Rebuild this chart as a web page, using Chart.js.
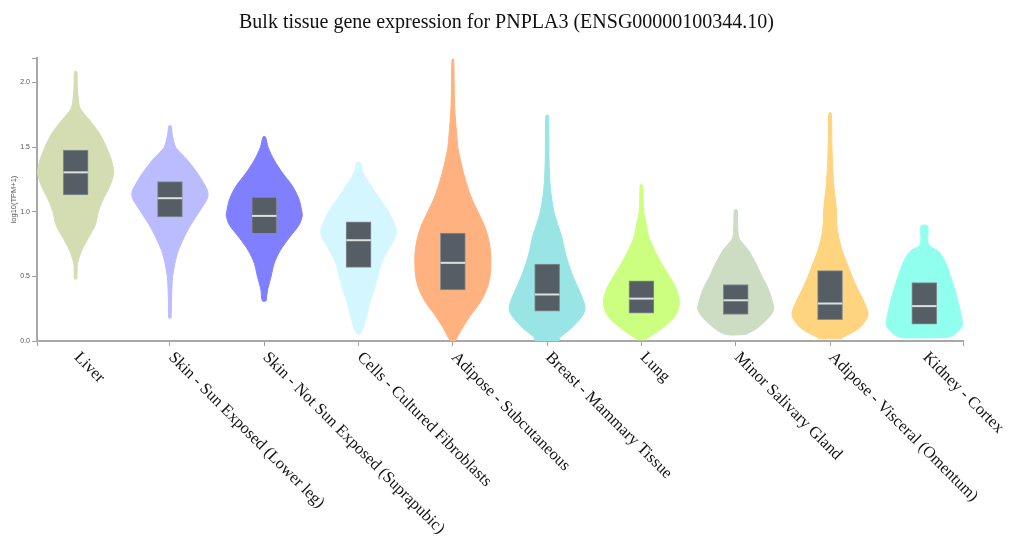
<!DOCTYPE html>
<html lang="en">

<head>
    <meta charset="UTF-8">
    <title>Bulk tissue gene expression for PNPLA3</title>
    <script src="https://cdn.jsdelivr.net/npm/chart.js"></script>
    <style>
        body {
            margin: 0;
            background: #fff;
        }

        #wrap {
            width: 1013px;
            height: 539px;
        }
    </style>
</head>

<body>
    <div id="wrap"><canvas id="violinChart"></canvas></div>
    <script>
        // tissues (x axis)
        const tissues = [
            'Liver',
            'Skin - Sun Exposed (Lower leg)',
            'Skin - Not Sun Exposed (Suprapubic)',
            'Cells - Cultured Fibroblasts',
            'Adipose - Subcutaneous',
            'Breast - Mammary Tissue',
            'Lung',
            'Minor Salivary Gland',
            'Adipose - Visceral (Omentum)',
            'Kidney - Cortex'
        ];
        const tissueColors = [
            'rgb(212,221,178)', 'rgb(187,187,255)', 'rgb(127,127,255)', 'rgb(212,246,255)', 'rgb(255,178,127)',
            'rgb(153,229,229)', 'rgb(204,255,127)', 'rgb(204,221,195)', 'rgb(255,212,127)', 'rgb(144,255,238)'
        ];

        // box: first quartile, median, third quartile  (log10(TPM+1))
        const q1 = [1.13, 0.96, 0.83, 0.57, 0.395, 0.23, 0.215, 0.205, 0.165, 0.13];
        const median = [1.305, 1.105, 0.968, 0.78, 0.605, 0.36, 0.328, 0.315, 0.29, 0.27];
        const q3 = [1.477, 1.233, 1.114, 0.922, 0.835, 0.595, 0.465, 0.437, 0.545, 0.452];

        // violin outline: expression levels and relative density (1 = widest point)
        const violinY = [
            [0.48, 0.55, 0.6, 0.7, 0.8, 0.9, 1.0, 1.08, 1.2, 1.3, 1.4, 1.5, 1.6, 1.7, 1.8, 1.9, 2.0, 2.085],
            [0.178, 0.3, 0.4, 0.5, 0.6, 0.7, 0.8, 0.9, 1.0, 1.1, 1.15, 1.2, 1.3, 1.4, 1.45, 1.5, 1.6, 1.664],
            [0.31, 0.4, 0.5, 0.6, 0.7, 0.8, 0.9, 0.97, 1.0, 1.1, 1.2, 1.3, 1.4, 1.5, 1.58],
            [0.057, 0.1, 0.2, 0.3, 0.4, 0.5, 0.6, 0.7, 0.8, 0.85, 0.9, 1.0, 1.1, 1.2, 1.3, 1.38],
            [0.0, 0.1, 0.2, 0.3, 0.4, 0.5, 0.6, 0.7, 0.8, 0.9, 1.0, 1.1, 1.2, 1.3, 1.4, 1.5, 1.6, 1.8, 2.0, 2.18],
            [0.0, 0.03, 0.1, 0.2, 0.25, 0.3, 0.4, 0.5, 0.6, 0.7, 0.8, 0.9, 1.0, 1.1, 1.2, 1.4, 1.6, 1.745],
            [0.01, 0.03, 0.1, 0.2, 0.3, 0.4, 0.5, 0.6, 0.7, 0.8, 0.9, 1.0, 1.1, 1.207],
            [0.05, 0.1, 0.2, 0.25, 0.3, 0.4, 0.5, 0.6, 0.7, 0.75, 0.8, 0.9, 1.013],
            [0.018, 0.03, 0.1, 0.2, 0.3, 0.4, 0.5, 0.6, 0.7, 0.8, 0.9, 1.0, 1.1, 1.2, 1.4, 1.6, 1.763],
            [0.026, 0.05, 0.12, 0.2, 0.3, 0.4, 0.5, 0.6, 0.66, 0.7, 0.74, 0.8, 0.89]
        ];
        const violinDensity = [
            [0.03, 0.04, 0.05, 0.16, 0.34, 0.52, 0.6, 0.7, 0.9, 1.0, 0.94, 0.81, 0.64, 0.39, 0.12, 0.06, 0.04, 0.03],
            [0.03, 0.04, 0.05, 0.07, 0.13, 0.22, 0.37, 0.55, 0.77, 0.98, 1.0, 0.93, 0.72, 0.46, 0.3, 0.15, 0.06, 0.03],
            [0.05, 0.09, 0.18, 0.26, 0.42, 0.66, 0.92, 1.0, 0.99, 0.91, 0.74, 0.48, 0.26, 0.1, 0.03],
            [0.05, 0.12, 0.22, 0.3, 0.42, 0.51, 0.6, 0.77, 0.96, 1.0, 0.95, 0.79, 0.56, 0.33, 0.12, 0.05],
            [0.06, 0.25, 0.47, 0.72, 0.89, 0.98, 1.0, 0.99, 0.93, 0.82, 0.66, 0.5, 0.38, 0.28, 0.2, 0.13, 0.1, 0.05, 0.035, 0.02],
            [0.3, 0.35, 0.64, 0.94, 1.0, 0.97, 0.83, 0.68, 0.56, 0.46, 0.39, 0.28, 0.18, 0.12, 0.08, 0.05, 0.045, 0.03],
            [0.1, 0.2, 0.55, 0.9, 1.0, 0.92, 0.74, 0.53, 0.35, 0.2, 0.13, 0.06, 0.045, 0.03],
            [0.26, 0.57, 0.92, 1.0, 0.97, 0.86, 0.69, 0.53, 0.34, 0.2, 0.08, 0.05, 0.035],
            [0.3, 0.35, 0.77, 1.0, 0.9, 0.73, 0.58, 0.45, 0.32, 0.23, 0.18, 0.17, 0.14, 0.1, 0.06, 0.045, 0.03],
            [0.6, 0.79, 1.0, 0.97, 0.89, 0.8, 0.69, 0.57, 0.46, 0.35, 0.12, 0.09, 0.085]
        ];

        const yTicks = [0, 0.5, 1.0, 1.5, 2.0];

        const halfViolin = 0.403; // half width of a violin at density 1 (x units)
        const halfBox = 0.13;

        const datasets = [];

        // violins as closed filled shapes
        tissues.forEach((t, i) => {
            const pts = [];
            violinY[i].forEach((v, k) => pts.push({ x: i + violinDensity[i][k] * halfViolin, y: v }));
            for (let k = violinY[i].length - 1; k >= 0; k--) {
                pts.push({ x: i - violinDensity[i][k] * halfViolin, y: violinY[i][k] });
            }
            pts.push(pts[0]);
            datasets.push({
                type: 'line',
                label: t,
                data: pts,
                fill: 'shape',
                backgroundColor: tissueColors[i],
                borderColor: tissueColors[i],
                borderWidth: 1,
                pointRadius: 0,
                tension: 0.3,
                order: 3
            });
        });

        // interquartile boxes
        datasets.push({
            type: 'bar',
            label: 'IQR',
            data: tissues.map((t, i) => ({ x: i, y: [q1[i], q3[i]] })),
            backgroundColor: '#555e65',
            borderColor: '#858e93',
            borderWidth: 1,
            borderSkipped: false,
            barThickness: 25,
            order: 2
        });

        // median lines
        tissues.forEach((t, i) => {
            datasets.push({
                type: 'line',
                label: 'median ' + t,
                data: [{ x: i - halfBox, y: median[i] }, { x: i + halfBox, y: median[i] }],
                borderColor: '#dde1e1',
                borderWidth: 2,
                pointRadius: 0,
                fill: false,
                order: 1
            });
        });

        // rotated tissue labels (text starts at the tick and goes down-right)
        const tissueLabels = {
            id: 'tissueLabels',
            afterDraw(chart) {
                const ctx = chart.ctx;
                const xs = chart.scales.x;
                ctx.save();
                ctx.font = '16.5px "Liberation Serif", serif';
                ctx.fillStyle = '#111';
                ctx.textAlign = 'left';
                ctx.textBaseline = 'middle';
                tissues.forEach((t, i) => {
                    ctx.save();
                    ctx.translate(xs.getPixelForValue(i) + 1, xs.top + 14);
                    ctx.rotate(Math.PI / 4);
                    ctx.fillText(t, 0, 0);
                    ctx.restore();
                });
                ctx.restore();
            }
        };

        const ctx = document.getElementById('violinChart').getContext('2d');
        new Chart(ctx, {
            type: 'line',
            data: { datasets: datasets },
            plugins: [tissueLabels],
            options: {
                responsive: true,
                maintainAspectRatio: false,
                animation: false,
                events: [],
                layout: { padding: 0 },
                plugins: {
                    legend: { display: false },
                    tooltip: { enabled: false },
                    title: {
                        display: true,
                        text: 'Bulk tissue gene expression for PNPLA3 (ENSG00000100344.10)',
                        color: '#111',
                        font: { family: '"Liberation Serif", serif', size: 20, weight: 'normal', lineHeight: 1.2 },
                        padding: { top: 11, bottom: 23 }
                    }
                },
                scales: {
                    x: {
                        type: 'linear',
                        offset: false,
                        min: -0.41,
                        max: 9.41,
                        ticks: { stepSize: 1, display: false },
                        grid: { display: true, offset: false, drawOnChartArea: false, drawTicks: true, tickLength: 5, color: '#a0a0a0', lineWidth: 1 },
                        border: { display: true, color: '#a8a8a8', width: 2 },
                        afterFit: (scale) => { scale.height = 198; }
                    },
                    y: {
                        type: 'linear',
                        min: 0,
                        max: 2.19,
                        afterBuildTicks: (scale) => {
                            scale.ticks = yTicks.map(v => ({ value: v })).concat([{ value: 2.19 }]);
                        },
                        ticks: {
                            color: '#555',
                            padding: 2,
                            font: { family: '"Liberation Sans", Arial, sans-serif', size: 7 },
                            callback: (v) => yTicks.includes(v) ? v.toFixed(1) : ''
                        },
                        grid: { display: true, drawOnChartArea: false, drawTicks: true, tickLength: 5, color: '#a0a0a0', lineWidth: 1 },
                        border: { display: true, color: '#a8a8a8', width: 2 },
                        title: {
                            display: true,
                            text: 'log10(TPM+1)',
                            color: '#555',
                            font: { family: '"Liberation Sans", Arial, sans-serif', size: 7.5 },
                            padding: { top: 9, bottom: 0 }
                        },
                        afterFit: (scale) => { scale.width = 37; }
                    },
                    // empty right margin so the title stays centred on the page
                    yRight: {
                        type: 'linear',
                        position: 'right',
                        display: true,
                        min: 0,
                        max: 2.19,
                        ticks: { display: false },
                        grid: { display: false },
                        border: { display: false },
                        afterFit: (scale) => { scale.width = 50; }
                    }
                }
            }
        });
    </script>
</body>

</html>
